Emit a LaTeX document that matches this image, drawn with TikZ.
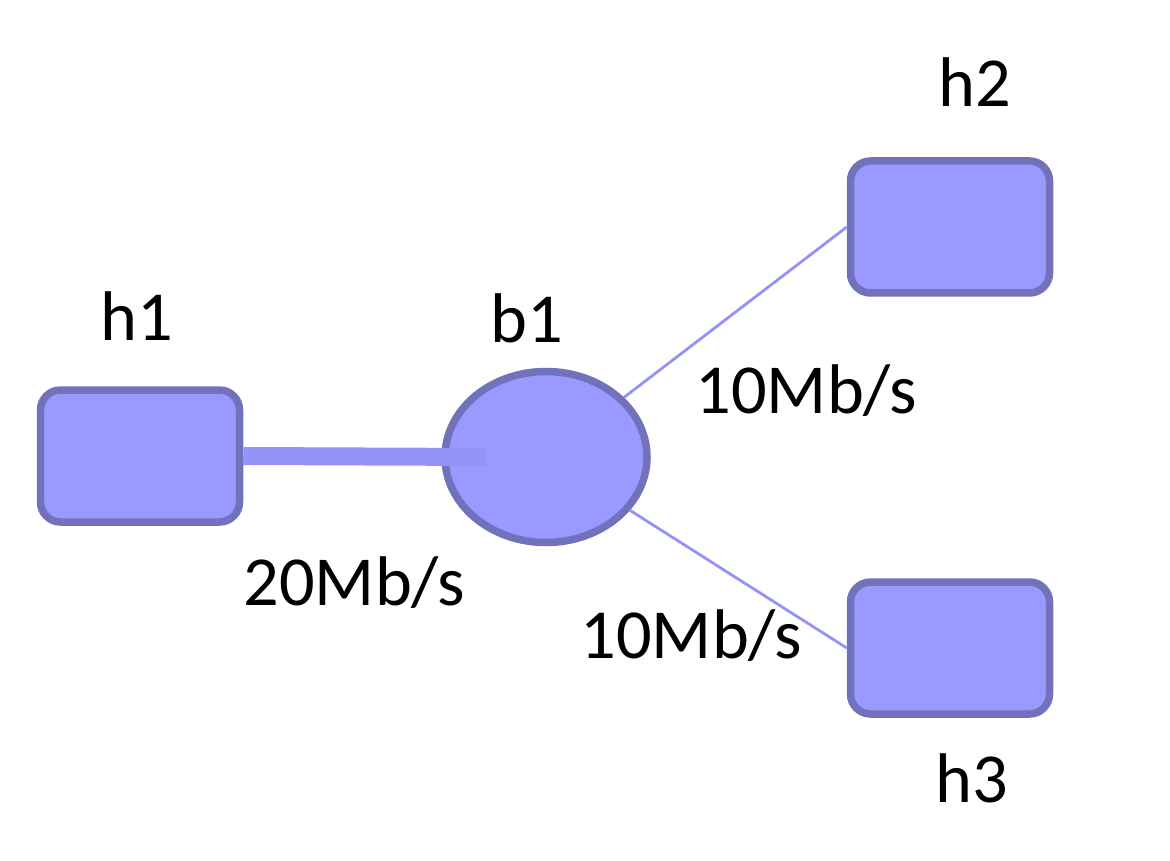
\documentclass[tikz,border=0pt]{standalone}
\usepackage{fontspec}
\setmainfont{Carlito}
\usetikzlibrary{shapes.geometric}
\definecolor{boxfill}{HTML}{9999FF}
\definecolor{boxline}{HTML}{7272BC}
\definecolor{linkcol}{HTML}{9494F8}
\tikzset{
	host/.style={draw=boxline,fill=boxfill,line width=0.075cm,rounded corners=0.2cm,minimum width=1.99cm,minimum height=1.32cm,inner sep=0pt},
	bridge/.style={ellipse,draw=boxline,fill=boxfill,line width=0.075cm,minimum width=2.02cm,minimum height=1.71cm,inner sep=0pt},
	lbl/.style={anchor=base west,inner sep=0pt,font=\fontsize{20pt}{24pt}\selectfont}
}
\begin{document}
\begin{tikzpicture}
		\useasboundingbox (0,0) rectangle (11.7,8.6);
		\foreach \n/\x/\y in {h1/1.40/4.04, h2/9.50/6.33, h3/9.50/2.12} % edit here for the hosts
		\node[host] (\n) at (\x,\y) {};
		\node[bridge] (b1) at (5.46,4.03) {};
		\coordinate (e1) at (4.87,4.03); % end of the thick link
		\draw[linkcol,line width=0.18cm] (h1.east) -- (e1);
		\draw[linkcol,line width=0.8pt] (b1) -- (h2.west);
		\draw[linkcol,line width=0.8pt] (b1) -- (h3.west);
		% labels
		\node[lbl] (t1) at (1.00,5.20) {h1};
		\node[lbl] (tb) at (4.90,5.18) {b1};
		\node[lbl] (t2) at (9.38,7.53) {h2};
		\node[lbl] (t3) at (9.35,0.58) {h3};
		\node[lbl] (r1) at (2.43,2.55) {20Mb/s};
		\node[lbl] (r2) at (6.95,4.47) {10Mb/s};
		\node[lbl] (r3) at (5.80,2.02) {10Mb/s};
	\end{tikzpicture}
\end{document}
